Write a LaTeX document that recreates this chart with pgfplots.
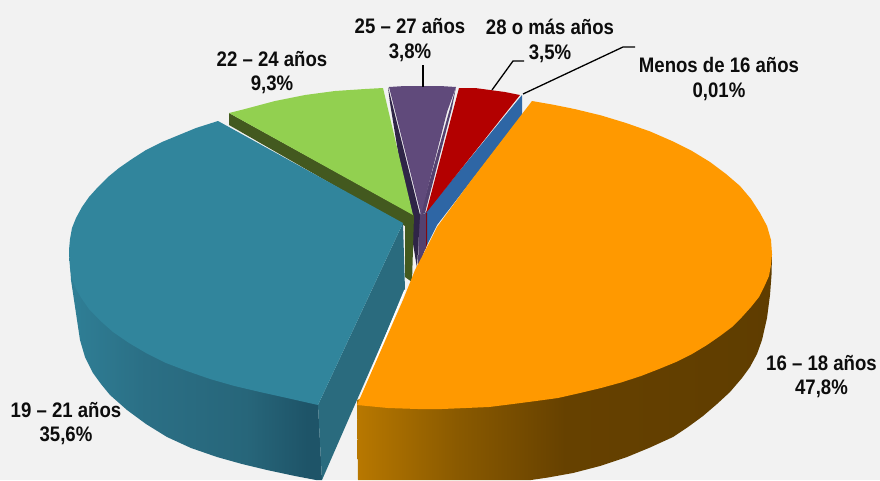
\documentclass[border=0pt]{standalone}
\usepackage{fontspec}
\setmainfont{Liberation Sans}
\usepackage{graphicx}
\usepackage{pgfplots}
\pgfplotsset{compat=1.18}
\definecolor{bgc}{HTML}{F2F2F2}
\definecolor{orangetop}{HTML}{FF9900}
\definecolor{tealtop}{HTML}{31859C}
\definecolor{tealwall}{HTML}{2A6B7E}
\definecolor{greentop}{HTML}{92D050}
\definecolor{greenwall}{HTML}{43591F}
\definecolor{purpletop}{HTML}{604A7B}
\definecolor{purplewall}{HTML}{54416F}
\definecolor{purpledark}{HTML}{2F2547}
\definecolor{redtop}{HTML}{B30000}
\definecolor{redwall}{HTML}{8C0000}
\definecolor{bluewall}{HTML}{2E66A5}
\definecolor{labelc}{HTML}{0D0D0D}
\definecolor{orangeS0}{HTML}{B87800}
\definecolor{orangeS1}{HTML}{8A5A00}
\definecolor{orangeS2}{HTML}{664100}
\definecolor{orangeS3}{HTML}{5F3D00}
\definecolor{tealS0}{HTML}{2F7F96}
\definecolor{tealS1}{HTML}{2B6F85}
\definecolor{tealS2}{HTML}{27667A}
\definecolor{tealS3}{HTML}{1E5468}
\pgfdeclarehorizontalshading{orangeside}{100bp}{color(0bp)=(orangeS0); color(25bp)=(orangeS0); color(37bp)=(orangeS1); color(50bp)=(orangeS2); color(75bp)=(orangeS3); color(100bp)=(orangeS3)}
\pgfdeclarehorizontalshading{tealside}{100bp}{color(0bp)=(tealS0); color(25bp)=(tealS0); color(40bp)=(tealS1); color(60bp)=(tealS2); color(72bp)=(tealS3); color(100bp)=(tealS3)}
\newcommand{\lab}[2]{\scalebox{0.885}[1]{\fontsize{21}{27}\selectfont\bfseries\color{labelc}\shortstack[c]{#1\\[7pt]#2}}}
\begin{document}
\begin{tikzpicture}
\begin{axis}[
  width=880pt,height=480pt,scale only axis,
  xmin=0,xmax=880,ymin=0,ymax=480,y dir=reverse,
  hide axis,clip=true]
% background
\addplot[fill=bgc,draw=none] coordinates {(0,0)(880,0)(880,480)(0,480)} --cycle;
% blue
\addplot[fill=bluewall,draw=none] coordinates {(522,95)(522,115)(437,225)(427,245)(425,213)} --cycle;
% red
\addplot[fill=redwall,draw=none] coordinates {(425,213)(427,213)(427,245)(425,250)} --cycle;
\addplot[fill=redtop,draw=none] coordinates {(459,88)(475,88)(490,90)(505,92)(520,95)(426,213)} --cycle;
% purple
\addplot[fill=purplewall,draw=none] coordinates {(419,215)(426,213)(426,247)(418,268)} --cycle;
\addplot[fill=purpledark,draw=none] coordinates {(388,87)(390,103)(417,268)(420,215)} --cycle;
\addplot[fill=purplewall,draw=none] coordinates {(456,87)(452,108)(425,213)(420,215)} --cycle;
\addplot[fill=purpletop,draw=none] coordinates {(389,87)(405,86)(422,86)(440,86)(456,87)(447,112)(421,215)} --cycle;
% green
\addplot[fill=greenwall,draw=none] coordinates {(229,113)(229,125)(405,226)(405,277)(412,282)(414,215)} --cycle;
\addplot[fill=greentop,draw=none] coordinates {(383,88)(365,89)(350,90)(335,91)(320,93)(305,95)(290,98)(275,101)(260,105)(245,109)(229,113)(413,215)} --cycle;
% teal
\addplot[shading=tealside,draw=none] coordinates {(69,250)(71,280)(74,300)(77,320)(80,340)(85,357)(93,373)(101,384)(110,395)(127,410)(146,424)(167,437)(191,448)(217,457)(242,464)(267,470)(295,476)(316,480)(322,480)(318,405)} --cycle;
\addplot[fill=tealwall,draw=none] coordinates {(403,223)(405,290)(322,480)(318,405)} --cycle;
\addplot[fill=tealtop,draw=none] coordinates {(218,121)(196,128)(179,135)(162,142)(146,150)(132,159)(119,168)(108,177)(98,187)(89,197)(82,207)(76,218)(72,228)(70,239)(69,250)(70,268)(72,279)(76,289)(82,299)(89,309)(100,320.5)(113,332)(129,343)(146,353)(166,363)(187,371)(210,379)(234.5,386)(260,392)(287,398)(318,405)(403,223)} --cycle;
% orange
\addplot[white,line width=1.6pt] coordinates {(358,404)(405,290)};
\addplot[shading=orangeside,draw=none] coordinates {(357,400)(358,480)(531,480)(548,477.5)(573,473)(600,466)(627,457)(650,447.5)(673,437)(688,427)(703,416)(717,404)(730,392)(742,378)(750,367)(757,354)(762,340)(767,318)(770,295)(771.5,275)(772,254)} --cycle;
\addplot[fill=orangetop,draw=none] coordinates {(532,101)(552.6,104.6)(574.5,109)(601,115.4)(626,123)(650,131.4)(672,141)(692,151)(710,162)(726,174)(740,186)(751,199)(760,213)(767,226)(771,240)(772,254)(771,265)(769,276)(764.5,286)(759,297)(751,307)(742,317)(732,327)(720,336)(707,345)(692,354)(676,362)(659,369)(641,376)(621,382.5)(601,388)(580,393)(558,398)(536,401)(513,404)(489,407)(466,408)(442,409)(418,409)(388,408)(357,405)(403,300)(415,270)(428,245)(437,227)(470,182)} --cycle;
% leader lines
\addplot[black,line width=1.3pt] coordinates {(423,65)(423,87)};
\addplot[black,line width=1.3pt] coordinates {(492,90)(513,61)(524,61)};
\addplot[black,line width=1.3pt] coordinates {(523,94)(623,47)(635,47)};
% labels
\node at (axis cs:410,40) {\lab{25 – 27 años}{3,8\%}};
\node at (axis cs:550,41) {\lab{28 o más años}{3,5\%}};
\node at (axis cs:272,72.5) {\lab{22 – 24 años}{9,3\%}};
\node at (axis cs:719,79) {\lab{Menos de 16 años}{0,01\%}};
\node at (axis cs:821.5,376.5) {\lab{16 – 18 años}{47,8\%}};
\node at (axis cs:66,423.5) {\lab{19 – 21 años}{35,6\%}};
\end{axis}
\end{tikzpicture}
\end{document}
